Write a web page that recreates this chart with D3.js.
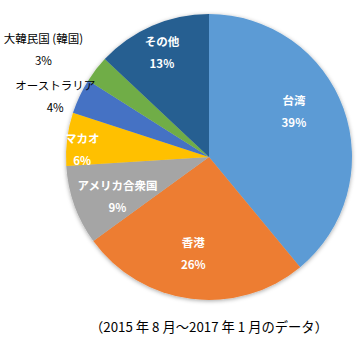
<!DOCTYPE html>
<html><head><meta charset="utf-8">
<script src="https://cdn.jsdelivr.net/npm/d3@7"></script>
<style>body{margin:0;background:#fff}svg{display:block}</style>
</head><body>
<script>
const categories = ["台湾","香港","アメリカ合衆国","マカオ","オーストラリア","大韓民国 (韓国)","その他"];
const values = [39,26,9,6,4,3,13];
const valueLabels = ["39%","26%","9%","6%","4%","3%","13%"];
const colors = ["#5B9BD5","#ED7D31","#A5A5A5","#FFC000","#4472C4","#70AD47","#255E91"];
const footnote = "（2015 年 8 月～2017 年 1 月のデータ）";

const W=357,H=350, cx=209, cy=157, R=143;
// label placement style: radius and angle tweak (degrees), inside or outside
const labelStyle = {
  "台湾":{r:96,da:-8,inside:true},
  "香港":{r:98,da:2,inside:true},
  "アメリカ合衆国":{r:100,da:-4,inside:true},
  "マカオ":{r:127,da:-4,inside:true},
  "オーストラリア":{r:165,da:-4,inside:false},
  "大韓民国 (韓国)":{r:197,da:-5,inside:false},
  "その他":{r:114,da:-1,inside:true}
};
const svg=d3.select("body").append("svg").attr("width",W).attr("height",H);
const defs=svg.append("defs");
const f=defs.append("filter").attr("id","sh").attr("x","-10%").attr("y","-10%").attr("width","120%").attr("height","120%");
f.append("feDropShadow").attr("dx",0).attr("dy",1).attr("stdDeviation",2).attr("flood-color","#000").attr("flood-opacity",0.35);

const data=categories.map((c,i)=>({name:c,value:values[i],label:valueLabels[i],color:colors[i]}));
const pie=d3.pie().value(d=>d.value).sort(null);
const arcs=pie(data);
const arc=d3.arc().innerRadius(0).outerRadius(R);
const g=svg.append("g").attr("transform",`translate(${cx},${cy})`);
g.append("g").attr("filter","url(#sh)").selectAll("path").data(arcs).join("path")
  .attr("d",arc).attr("fill",d=>d.data.color);

const font="'Noto Sans CJK JP','Noto Sans',sans-serif";
arcs.forEach(a=>{
  const st=labelStyle[a.data.name];
  const ang=(a.startAngle+a.endAngle)/2 + st.da*Math.PI/180;
  const x=st.r*Math.sin(ang), y=-st.r*Math.cos(ang);
  const fill=st.inside?"#fff":"#000";
  const wt=st.inside?"bold":"normal";
  const t=g.append("text").attr("text-anchor","middle").attr("font-family",font)
    .attr("font-size",11.5).attr("fill",fill).attr("font-weight",wt);
  t.append("tspan").attr("x",x).attr("y",y-7).text(a.data.name);
  t.append("tspan").attr("x",x).attr("y",y+15).text(a.data.label);
});
svg.append("text").attr("x",209).attr("y",332).attr("text-anchor","middle")
  .attr("font-family",font).attr("font-size",13.3).attr("fill","#000").text(footnote);
</script>
</body></html>
